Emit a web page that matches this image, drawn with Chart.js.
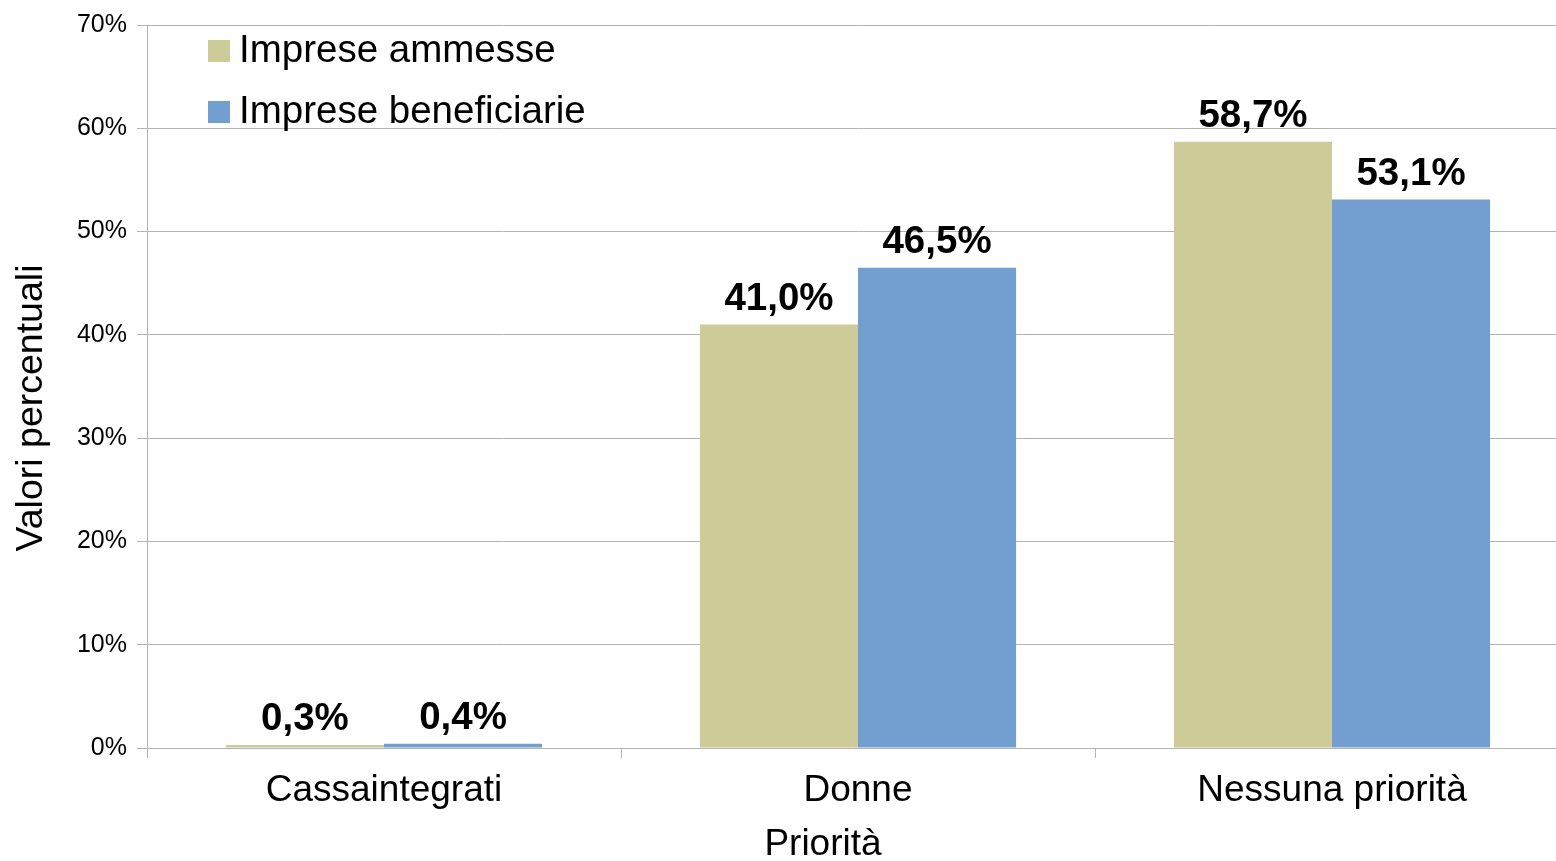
<!DOCTYPE html>
<html>
<head>
<meta charset="utf-8">
<script src="https://cdn.jsdelivr.net/npm/chart.js@4"></script>
<style>
  html, body { margin: 0; padding: 0; background: #fff; overflow: hidden; }
  #wrap { width: 1556px; height: 861px; overflow: hidden; }
</style>
</head>
<body>
<div id="wrap"><canvas id="prioChart" width="1569" height="861"></canvas></div>
<script>
const categories = ['Cassaintegrati', 'Donne', 'Nessuna priorità'];
const seriesNames = ['Imprese ammesse', 'Imprese beneficiarie'];
const ammesse = [0.3, 41.0, 58.7];
const beneficiarie = [0.4, 46.5, 53.1];
const yTicks = [0, 10, 20, 30, 40, 50, 60, 70];

const FONT = '"Liberation Sans", Arial, sans-serif';
const GRID = '#b3b3b3';

// value labels above the bars, italian decimal comma
const valueLabels = {
    id: 'valueLabels',
    afterDatasetsDraw(chart) {
        const ctx = chart.ctx;
        ctx.save();
        ctx.font = 'bold 38.5px ' + FONT;
        ctx.fillStyle = '#000';
        ctx.textAlign = 'center';
        ctx.textBaseline = 'alphabetic';
        chart.data.datasets.forEach(function (ds, i) {
            chart.getDatasetMeta(i).data.forEach(function (bar, j) {
                const txt = ds.data[j].toFixed(1).replace('.', ',') + '%';
                ctx.fillText(txt, bar.x, bar.y - 15);
            });
        });
        ctx.restore();
    }
};

// legend inside the plot area + axis titles
const extras = {
    id: 'extras',
    afterDraw(chart) {
        const ctx = chart.ctx;
        const area = chart.chartArea;
        ctx.save();
        ctx.font = '38.5px ' + FONT;
        ctx.textBaseline = 'middle';
        ctx.textAlign = 'left';
        chart.data.datasets.forEach(function (ds, i) {
            const cy = area.top + 26 + i * 61;
            ctx.fillStyle = ds.backgroundColor;
            ctx.fillRect(area.left + 61, cy - 11, 22, 22);
            ctx.fillStyle = '#000';
            ctx.fillText(ds.label, area.left + 92, cy);
        });

        // x title
        ctx.font = '37px ' + FONT;
        ctx.textAlign = 'center';
        ctx.fillText('Priorità', 823, 845);

        // y title
        ctx.font = '37.5px ' + FONT;
        ctx.translate(32, 408);
        ctx.rotate(-Math.PI / 2);
        ctx.fillText('Valori percentuali', 0, 0);
        ctx.restore();
    }
};

const ctx = document.getElementById('prioChart').getContext('2d');
const prioChart = new Chart(ctx, {
    type: 'bar',
    data: {
        labels: categories,
        datasets: [{
            label: seriesNames[0],
            data: ammesse,
            backgroundColor: '#cdcc98',
            categoryPercentage: 0.667,
            barPercentage: 1.0
        }, {
            label: seriesNames[1],
            data: beneficiarie,
            backgroundColor: '#729fcf',
            categoryPercentage: 0.667,
            barPercentage: 1.0
        }]
    },
    options: {
        responsive: false,
        animation: false,
        layout: { padding: { top: 23, right: 0, left: 0, bottom: 0 } },
        plugins: {
            legend: { display: false },
            tooltip: { enabled: false }
        },
        scales: {
            x: {
                afterFit: function (scale) { scale.height = 113; },
                grid: {
                    offset: true,
                    drawOnChartArea: false,
                    drawTicks: true,
                    tickLength: 10,
                    color: GRID
                },
                border: { color: GRID },
                ticks: {
                    color: '#000',
                    padding: 11,
                    font: { family: FONT, size: 37 }
                }
            },
            y: {
                min: 0,
                max: 70,
                afterFit: function (scale) { scale.width = 147; },
                afterBuildTicks: function (scale) {
                    scale.ticks = yTicks.map(function (v) { return { value: v }; });
                },
                grid: {
                    color: GRID,
                    tickLength: 10
                },
                border: { color: GRID },
                ticks: {
                    color: '#000',
                    padding: 10,
                    font: { family: FONT, size: 25 },
                    callback: function (v) { return v + '%'; }
                }
            }
        }
    },
    plugins: [valueLabels, extras]
});
</script>
</body>
</html>
